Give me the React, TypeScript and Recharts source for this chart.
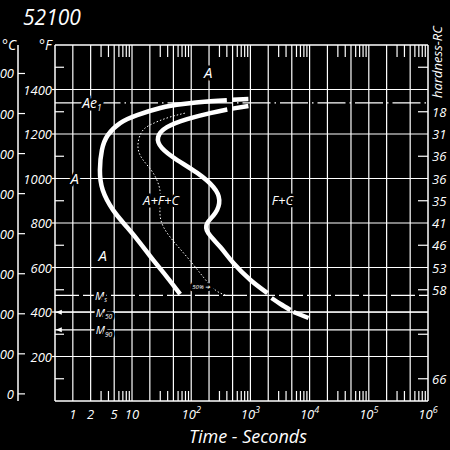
import React from 'react';
import { ComposedChart, Line, XAxis, YAxis, ReferenceLine, ReferenceDot } from 'recharts';

// time in seconds (log axis), temperature in °F
const startCurve = [
  { t: 65, f: 480 }, { t: 39, f: 557 }, { t: 22.7, f: 634 }, { t: 13.7, f: 710 },
  { t: 8.2, f: 782 }, { t: 4.8, f: 858 }, { t: 3.2, f: 948 }, { t: 2.87, f: 1038 },
  { t: 3.1, f: 1128 }, { t: 3.9, f: 1195 }, { t: 6.3, f: 1249 }, { t: 12.2, f: 1285 },
  { t: 30, f: 1317 }, { t: 73, f: 1335 }, { t: 210, f: 1347 }, { t: 400, f: 1352 },
  { t: 450, f: null }, { t: 495, f: 1354 }, { t: 925, f: 1357 },
];

const finishCurve = [
  { t: 9600, f: 373 }, { t: 5350, f: 400 }, { t: 5000, f: null },
  { t: 4760, f: 409 }, { t: 3220, f: 436 }, { t: 2270, f: 463 }, { t: 2100, f: null },
  { t: 1940, f: 485 }, { t: 1000, f: 544 }, { t: 515, f: 620 }, { t: 310, f: 692 },
  { t: 194, f: 755 }, { t: 187, f: 800 }, { t: 255, f: 845 }, { t: 298, f: 903 },
  { t: 236, f: 962 }, { t: 126, f: 1025 }, { t: 58, f: 1083 }, { t: 32, f: 1137 },
  { t: 27.6, f: 1186 }, { t: 39, f: 1231 }, { t: 85.5, f: 1267 }, { t: 210, f: 1294 },
  { t: 407, f: 1310 }, { t: 450, f: null }, { t: 495, f: 1314 }, { t: 925, f: 1326 },
];

const halfCurve = [
  { t: 377, f: 476 }, { t: 255, f: 499 }, { t: 160, f: 557 }, { t: 85, f: 647 },
  { t: 44, f: 737 }, { t: 30, f: 827 }, { t: 30, f: 935 }, { t: 22.7, f: 1025 },
  { t: 15.4, f: 1083 }, { t: 12.6, f: 1141 }, { t: 14.2, f: 1204 }, { t: 20, f: 1240 },
  { t: 39, f: 1272 }, { t: 79, f: 1294 },
];

const ae1 = 1340;
const ms = 475;
const m50 = 399;
const m90 = 320;

const regionLabels = [
  { text: 'A', t: 194, f: 1479 },
  { text: 'A', t: 1.08, f: 1002 },
  { text: 'A+F+C', t: 31, f: 903 },
  { text: 'F+C', t: 3480, f: 903 },
  { text: 'A', t: 3.2, f: 656 },
];

const fGrid = [200, 400, 600, 800, 1000, 1200, 1400];
const fTicks = [100, 200, 300, 400, 500, 600, 700, 800, 900, 1000, 1100, 1200, 1300, 1400, 1500];
const cTicks = [0, 100, 200, 300, 400, 500, 600, 700, 800];
const tGrid = [1, 2, 5, 10, 20, 50, 100, 200, 500, 1e3, 2e3, 5e3, 1e4, 2e4, 5e4, 1e5, 2e5, 5e5];
const tLabels = [1, 2, 5, 10, 100, 1e3, 1e4, 1e5, 1e6];
const minorMant = [3, 4, 6, 7, 8, 9];
const decades = [1, 10, 100, 1e3, 1e4, 1e5];
const tMinor = decades.flatMap((d) => minorMant.map((m) => m * d));
const hardness: Record<number, string> = {
  1300: '18', 1200: '31', 1100: '36', 1000: '36', 900: '35',
  800: '41', 700: '46', 600: '53', 500: '58', 100: '66',
};

const FONT = "'Open Sans', sans-serif";
const W = '#fff';
const txt = { fill: W, fontFamily: FONT, fontStyle: 'italic' as const };
const mask = { stroke: '#000', strokeWidth: 5, paintOrder: 'stroke' as const };
const minorSet = new Set(tMinor);

const BottomTick = ({ x, y, payload }: any) => {
  const v = payload.value;
  if (minorSet.has(v)) return <line x1={x} x2={x} y1={y} y2={y - 10} stroke={W} strokeWidth={1.2} />;
  if (v >= 100) {
    const e = Math.round(Math.log10(v));
    return (
      <text x={x} y={y + 18} textAnchor="middle" fontSize={13} {...txt}>
        10<tspan dy={-6} fontSize={9}>{e}</tspan>
      </text>
    );
  }
  return <text x={x} y={y + 18} textAnchor="middle" fontSize={13} {...txt}>{v}</text>;
};

const TopTick = ({ x, y }: any) => (
  <line x1={x} x2={x} y1={y} y2={y + 12} stroke={W} strokeWidth={1.2} />
);

const FTick = ({ x, y, payload }: any) => {
  const v = payload.value;
  if (v % 200 === 100) return <line x1={x} x2={x + 9} y1={y} y2={y} stroke={W} strokeWidth={1.2} />;
  return (
    <g>
      <line x1={x - 3} x2={x} y1={y} y2={y} stroke={W} strokeWidth={1.2} />
      <text x={x - 3} y={y + 5} textAnchor="end" fontSize={13} {...txt}>{v}</text>
    </g>
  );
};

const CTick = ({ x, y, payload }: any) => (
  <g>
    <line x1={x} x2={x + 7} y1={y} y2={y} stroke={W} strokeWidth={1.2} />
    <text x={x - 4} y={y + 5} textAnchor="end" fontSize={13} {...txt}>{payload.value}</text>
  </g>
);

const HTick = ({ x, y, payload }: any) => {
  const v = payload.value;
  const h = hardness[v];
  return (
    <g>
      {v % 200 === 100 && <line x1={x - 10} x2={x} y1={y} y2={y} stroke={W} strokeWidth={1.2} />}
      {h && <text x={x + 4} y={y + 5} textAnchor="start" fontSize={13} {...txt}>{h}</text>}
    </g>
  );
};

const textShape = (text: string, size: number) => ({ cx, cy }: any) => (
  <text x={cx} y={cy} textAnchor="middle" dominantBaseline="central" fontSize={size} {...txt} {...mask}>
    {text}
  </text>
);

const subShape = (main: string, sub: string, size: number) => ({ cx, cy }: any) => (
  <text x={cx} y={cy} textAnchor="middle" dominantBaseline="central" fontSize={size} {...txt} {...mask}>
    {main}<tspan fontSize={size * 0.6} dy={4}>{sub}</tspan>
  </text>
);

const arrowShape = ({ cx, cy }: any) => (
  <polygon points={`${cx - 3},${cy} ${cx + 3},${cy - 2.5} ${cx + 3},${cy + 2.5}`} fill={W} />
);

const ax = { xAxisId: 'b', yAxisId: 'f', ifOverflow: 'visible' as const };

export default function App() {
  return (
    <div style={{ position: 'fixed', left: 0, top: 0, width: 450, height: 450, background: '#000', overflow: 'hidden' }}>
      <div style={{ position: 'absolute', left: -20, top: 0 }}>
        <ComposedChart width={470} height={450} margin={{ top: 0, right: 0, bottom: 0, left: 0 }}>
          <XAxis xAxisId="b" dataKey="t" type="number" scale="log" domain={[0.5, 1e6]} allowDataOverflow
            ticks={[...tLabels, ...tMinor]} interval={0} height={49} tickSize={0} tickMargin={0}
            axisLine={{ stroke: W, strokeWidth: 1.5 }} tickLine={false} tick={<BottomTick />} />
          <XAxis xAxisId="top" orientation="top" dataKey="t" type="number" scale="log" domain={[0.5, 1e6]} allowDataOverflow
            ticks={tMinor} interval={0} height={45} tickSize={0} tickMargin={0}
            axisLine={{ stroke: W, strokeWidth: 1.5 }} tickLine={false} tick={<TopTick />} />
          <YAxis yAxisId="f" type="number" domain={[0, 1600]} allowDataOverflow ticks={fTicks} interval={0}
            width={37} tickSize={0} tickMargin={0} axisLine={{ stroke: W, strokeWidth: 1.5 }} tickLine={false} tick={<FTick />} />
          <YAxis yAxisId="zc" type="number" domain={[-160 / 9, 7840 / 9]} allowDataOverflow ticks={cTicks} interval={0}
            width={38} tickSize={0} tickMargin={0} axisLine={{ stroke: W, strokeWidth: 1.5 }} tickLine={false} tick={<CTick />} />
          <YAxis yAxisId="h" orientation="right" type="number" domain={[0, 1600]} allowDataOverflow ticks={fTicks} interval={0}
            width={22} tickSize={0} tickMargin={0} axisLine={{ stroke: W, strokeWidth: 1.5 }} tickLine={false} tick={<HTick />} />

          {fGrid.map((v) => (
            <ReferenceLine key={'fg' + v} {...ax} y={v} stroke={W} strokeWidth={1.2} />
          ))}
          {tGrid.map((v) => (
            <ReferenceLine key={'tg' + v} {...ax} x={v} stroke={W} strokeWidth={1.2} />
          ))}
          <ReferenceLine {...ax} y={ae1} stroke={W} strokeWidth={1.2} strokeDasharray="28 4 1.5 4" />
          <ReferenceLine {...ax} y={ms} stroke={W} strokeWidth={1.2} strokeDasharray="24 4" />
          <ReferenceLine {...ax} y={m50} stroke={W} strokeWidth={1.2} segment={[{ x: 0.56, y: m50 }, { x: 1e6, y: m50 }]} />
          <ReferenceLine {...ax} y={m90} stroke={W} strokeWidth={1.2} segment={[{ x: 0.56, y: m90 }, { x: 2.2, y: m90 }]} />
          <ReferenceDot {...ax} x={0.58} y={m50} r={3} shape={arrowShape} />
          <ReferenceDot {...ax} x={0.58} y={m90} r={3} shape={arrowShape} />

          <Line xAxisId="b" yAxisId="f" data={startCurve} dataKey="f" type="natural" stroke={W} strokeWidth={4.5}
            dot={false} activeDot={false} isAnimationActive={false} />
          <Line xAxisId="b" yAxisId="f" data={finishCurve} dataKey="f" type="natural" stroke={W} strokeWidth={4.5}
            dot={false} activeDot={false} isAnimationActive={false} />
          <Line xAxisId="b" yAxisId="f" data={halfCurve} dataKey="f" type="natural" stroke={W} strokeWidth={1}
            strokeDasharray="1.5 2" dot={false} activeDot={false} isAnimationActive={false} />

          {regionLabels.map((l, i) => (
            <ReferenceDot key={'rl' + i} {...ax} x={l.t} y={l.f} r={1} shape={textShape(l.text, l.text.length > 1 ? 13 : 15)} />
          ))}
          <ReferenceDot {...ax} x={2.1} y={ae1} r={1} shape={subShape('Ae', '1', 14)} />
          <ReferenceDot {...ax} x={3.0} y={ms} r={1} shape={subShape('M', 's', 11)} />
          <ReferenceDot {...ax} x={3.35} y={m50} r={1} shape={subShape('M', '50', 11)} />
          <ReferenceDot {...ax} x={3.35} y={m90} r={1} shape={subShape('M', '90', 11)} />
          <ReferenceDot {...ax} x={148} y={512} r={1} shape={textShape('50% ➔', 6)} />
        </ComposedChart>
      </div>
      <svg width={450} height={450} style={{ position: 'absolute', left: 0, top: 0, pointerEvents: 'none' }}>
        <text x={23} y={25} fontSize={21} {...txt}>52100</text>
        <text x={2} y={50} fontSize={14} {...txt}>°C</text>
        <text x={39} y={50} fontSize={14} {...txt}>°F</text>
        <text x={0} y={0} fontSize={13} textAnchor="middle" transform="translate(442 62) rotate(-90)" {...txt}>hardness-RC</text>
        <text x={248} y={443} fontSize={18} textAnchor="middle" {...txt}>Time - Seconds</text>
      </svg>
    </div>
  );
}
